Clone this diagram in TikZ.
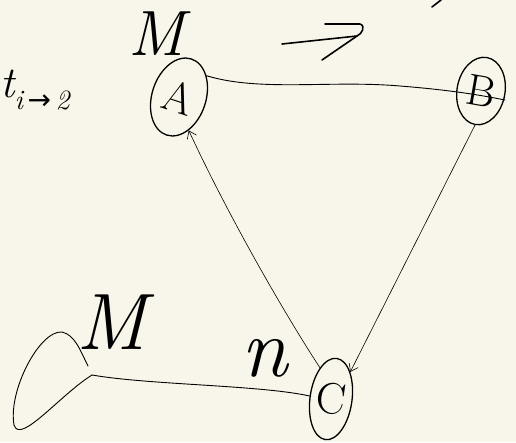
\documentclass[tikz,border=0pt]{standalone}
\usepackage{fontspec}
\newfontfamily\djv{DejaVu Sans}
\usetikzlibrary{shapes.geometric,arrows.meta}
\definecolor{paper}{RGB}{248,246,235}
\begin{document}
\begin{tikzpicture}[x=1pt,y=-1pt,
  stroke/.style={line width=0.9pt,line cap=round,line join=round},
  vert/.style={draw,ellipse,line width=1.3pt,inner sep=0pt,font=\fontsize{44}{46}\selectfont},
  hand/.style={inner sep=0pt,font=\fontsize{64}{66}\selectfont\itshape},
  tip/.style={-{Straight Barb[length=7pt,width=10pt]}}]
\fill[paper] (0,0) rectangle (516,442);
\useasboundingbox (0,0) rectangle (516,442);
\node[vert,minimum width=54pt,minimum height=80pt,rotate=-18] (A) at (179,97) {A};
\node[vert,minimum width=48pt,minimum height=68pt,rotate=-10] (B) at (481,91) {B};
\node[vert,minimum width=42pt,minimum height=82pt,rotate=-8] (C) at (331,399) {C};
\node[hand] (mA) at (157,34) {M};
\node[hand,font=\fontsize{84}{86}\selectfont\itshape] (nC) at (265,358) {n};
\node[hand,font=\fontsize{80}{82}\selectfont\itshape] (mL) at (112,322) {M};
\node[anchor=west,inner sep=0pt] (t) at (0,90) {{\fontsize{44}{44}\selectfont\itshape t}\raisebox{-12pt}{\fontsize{28}{28}\selectfont\itshape i\,{\djv\upshape →}\,2}};
% hand-drawn arrow at the top
\coordinate (a1) at (282,44);
\coordinate (a2) at (357,36);
\draw[line width=1.6pt,line cap=round,line join=round] (a1) -- (a2);
\draw[line width=1.6pt,line cap=round,line join=round] (325,24) -- (360,24) .. controls (366,26) and (362,34) .. (a2) -- (322,60);
% stroke cut by the top edge
\coordinate (tr1) at (441,0);
\coordinate (tr2) at (432,7);
\draw[line width=1.6pt,line cap=round] (tr1) -- (tr2);
% connectors
\draw[stroke] (A.north east) .. controls (260,92) and (330,80) .. (400,86) .. controls (450,90) and (480,95) .. (505,100);
\draw[stroke,line width=0.6pt,tip] (B.south) -- (C.north east);
\draw[stroke,line width=0.6pt,tip] (C.north west) .. controls (295,330) and (235,230) .. (A.south east);
\coordinate (loop) at (92,375);
\draw[stroke] (C.west) .. controls (260,385) and (150,385) .. (loop);
\draw[stroke] (loop) .. controls (60,395) and (20,445) .. (14,425) .. controls (8,390) and (40,330) .. (62,332) .. controls (75,335) and (80,350) .. (88,366);
\end{tikzpicture}
\end{document}
